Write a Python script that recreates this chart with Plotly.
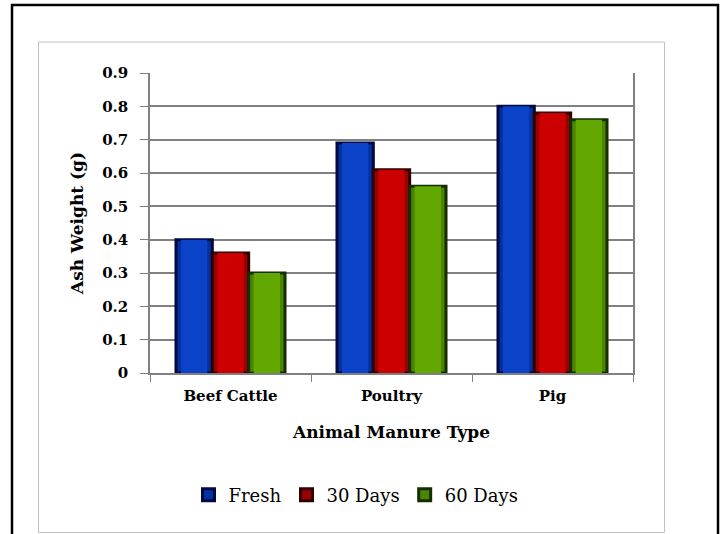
import plotly.graph_objects as go

# Ash weight of composted animal manure by type and age
categories = ["Beef Cattle", "Poultry", "Pig"]
series_names = ["Fresh", "30 Days", "60 Days"]
fresh = [0.40, 0.69, 0.80]
days_30 = [0.36, 0.61, 0.78]
days_60 = [0.30, 0.56, 0.76]
y_tick_vals = [0, 0.1, 0.2, 0.3, 0.4, 0.5, 0.6, 0.7, 0.8, 0.9]
y_tick_text = ["0", "0.1", "0.2", "0.3", "0.4", "0.5", "0.6", "0.7", "0.8", "0.9"]

# shaded bar look: dark outline, mid band, bright core
mid_cols = ["#0530a0", "#9a0000", "#4a8600"]
core_cols = ["#0a42c8", "#cc0000", "#62a800"]
line_cols = ["#000a40", "#300000", "#142e00"]

W, H = 721, 534
L, R, T, B = 150, 633, 73, 373  # plot area in pixels
CAT_PX = (R - L) / len(categories)


def px(x):
    return (x - L) / (R - L)


def py(y):
    return (B - y) / (B - T)


FONT = "DejaVu Serif"
bar_w = 0.2257
group_start = -1.5 * bar_w

fig = go.Figure()
for i, (name, vals) in enumerate(zip(series_names, [fresh, days_30, days_60])):
    off = group_start + i * bar_w
    fig.add_trace(go.Bar(
        x=categories, y=vals, name=name, offset=off, width=bar_w,
        marker=dict(color=mid_cols[i], line=dict(color=line_cols[i], width=3)),
        legendgroup=name,
    ))
    ins = 5 / CAT_PX
    fig.add_trace(go.Bar(
        x=categories, y=vals, offset=off + ins, width=bar_w - 2 * ins,
        marker=dict(color=core_cols[i], line=dict(width=0)),
        showlegend=False, hoverinfo="skip", legendgroup=name,
    ))

fig.update_layout(
    width=W, height=H,
    margin=dict(l=L, r=W - R, t=T, b=H - B),
    paper_bgcolor="white", plot_bgcolor="white",
    barmode="overlay",
    font=dict(family=FONT, color="black"),
    showlegend=True,
    legend=dict(
        orientation="h", x=px(356), xanchor="center", y=py(495), yanchor="middle",
        font=dict(family=FONT, size=18), itemwidth=30, tracegroupgap=0,
        bgcolor="rgba(0,0,0,0)",
    ),
    xaxis=dict(
        showgrid=False, showline=True, linecolor="#808080", linewidth=1.5,
        ticks="outside", tickson="boundaries", ticklen=7, tickcolor="#808080",
        ticklabelstandoff=8,
        tickfont=dict(family=FONT, size=15, color="black"),
        title=dict(text="<b>Animal Manure Type</b>", standoff=22,
                   font=dict(family=FONT, size=17, color="black")),
    ),
    yaxis=dict(
        range=[0, 0.9], tickvals=y_tick_vals, ticktext=[f"<b>{t}</b>" for t in y_tick_text],
        showgrid=True, gridcolor="#808080", gridwidth=1.5,
        showline=True, linecolor="#808080", linewidth=1.5, mirror=True,
        ticks="outside", ticklen=8, tickcolor="#808080",
        ticklabelstandoff=9,
        tickfont=dict(family=FONT, size=15, color="black"),
        title=dict(text="<b>Ash Weight (g)</b>", standoff=14,
                   font=dict(family=FONT, size=17, color="black")),
        zeroline=False,
    ),
    shapes=[
        dict(type="rect", xref="paper", yref="paper",
             x0=px(12), x1=px(718), y0=py(560), y1=py(5),
             line=dict(color="black", width=2.5), layer="below"),
        dict(type="rect", xref="paper", yref="paper",
             x0=px(38.5), x1=px(664.5), y0=py(532.5), y1=py(42),
             line=dict(color="#c0c0c0", width=1), layer="below"),
    ],
)
fig.update_xaxes(tickprefix="<b>", ticksuffix="</b>")

fig.write_html("out.html")
